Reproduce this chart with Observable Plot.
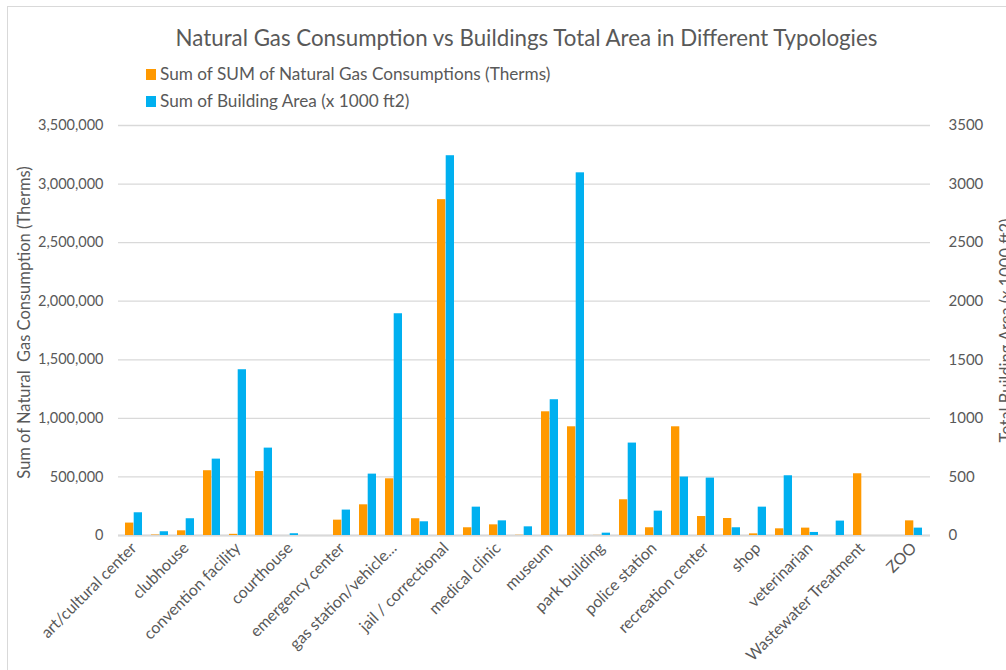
<!DOCTYPE html>
<html><head><meta charset="utf-8">
<script src="https://cdn.jsdelivr.net/npm/d3@7"></script>
<script src="https://cdn.jsdelivr.net/npm/@observablehq/plot@0.6"></script>
<style>
body{margin:0;background:#fff;font-family:Lato, "Open Sans", sans-serif;}
#wrap{position:relative;width:1006px;height:670px;overflow:hidden;background:#fff;}
#frame{position:absolute;left:7px;top:6px;width:1020px;height:700px;border:1.5px solid #d9d9d9;}
#title{position:absolute;left:47px;width:959px;top:24px;text-align:center;font-size:22.3px;color:#595959;line-height:28px;}
.leg{position:absolute;left:146px;font-size:17.2px;color:#595959;display:flex;align-items:center;line-height:20px;}
.sw{width:10px;height:11px;margin-right:4px;}
#chart{position:absolute;left:0;top:110px;}
</style></head>
<body>
<div id="wrap">
  <div id="frame"></div>
  <div id="title"></div>
  <div class="leg" id="leg1" style="top:64px"><span class="sw" style="background:#FF9900"></span><span class="lt"></span></div>
  <div class="leg" id="leg2" style="top:91px"><span class="sw" style="background:#00B0F0"></span><span class="lt"></span></div>
  <div id="chart"></div>
</div>
<script>
const titleText = "Natural Gas Consumption vs Buildings Total Area in Different Typologies";
const seriesNames = ["Sum of SUM of Natural Gas Consumptions (Therms)", "Sum of Building Area (x 1000 ft2)"];
const leftAxisTitle = "Sum of Natural  Gas Consumption (Therms)";
const rightAxisTitle = "Total Building Area (x 1000 ft2)";

// 31 categories; Excel shows only every other label
const categories = [
  "art/cultural center", "(unlabeled 1)", "clubhouse", "(unlabeled 2)", "convention facility",
  "(unlabeled 3)", "courthouse", "(unlabeled 4)", "emergency center", "(unlabeled 5)",
  "gas station/vehicle...", "(unlabeled 6)", "jail / correctional", "(unlabeled 7)", "medical clinic",
  "(unlabeled 8)", "museum", "(unlabeled 9)", "park building", "(unlabeled 10)",
  "police station", "(unlabeled 11)", "recreation center", "(unlabeled 12)", "shop",
  "(unlabeled 13)", "veterinarian", "(unlabeled 14)", "Wastewater Treatment", "(unlabeled 15)", "ZOO"
];
const labeledCategories = categories.filter(c => !c.startsWith("(unlabeled"));

const gasTherms = [
  106000, 4000, 40000, 553000, 10000,
  546000, 0, 0, 131000, 262000,
  484000, 143000, 2867000, 66000, 91000,
  2000, 1056000, 928000, 1000, 305000,
  66000, 928000, 162000, 145000, 14000,
  57000, 63000, 0, 527000, 0, 125000
];
const areaK = [
  194, 32, 143, 652, 1415,
  746, 15, 0, 217, 524,
  1893, 117, 3242, 242, 125,
  74, 1159, 3096, 20, 789,
  208, 499, 490, 66, 242,
  510, 26, 123, 0, 0, 63
];
const yTicks = [0, 500000, 1000000, 1500000, 2000000, 2500000, 3000000, 3500000];

document.getElementById("title").textContent = titleText;
document.querySelector("#leg1 .lt").textContent = seriesNames[0];
document.querySelector("#leg2 .lt").textContent = seriesNames[1];

const rows = categories.map((c, i) => ({category: c, gas: gasTherms[i], area: areaK[i]}));

const plot = Plot.plot({
  width: 1006, height: 560,
  marginTop: 15, marginBottom: 135, marginLeft: 118, marginRight: 76,
  style: {fontFamily: "Lato, 'Open Sans', sans-serif", fontSize: "14px", color: "#595959", background: "transparent"},
  x: {domain: categories, paddingInner: 0.336, paddingOuter: 0.168, label: null},
  y: {domain: [0, 3500000], label: null},
  marks: [
    Plot.gridY(yTicks, {stroke: "#d9d9d9", strokeOpacity: 1, strokeWidth: 1.3}),
    Plot.ruleY([0], {stroke: "#d9d9d9", strokeWidth: 2}),
    Plot.barY(rows, {x: "category", y: "gas", fill: "#FF9900", insetRight: 8.7}),
    Plot.barY(rows, {x: "category", y: d => d.area * 1000, fill: "#00B0F0", insetLeft: 8.7}),
    Plot.axisY({ticks: yTicks, tickFormat: d3.format(","), tickSize: 0, tickPadding: 15, label: null, fontSize: 14.5}),
    Plot.axisY({anchor: "right", ticks: yTicks, tickFormat: d => String(d / 1000), tickSize: 0, tickPadding: 18, label: null, fontSize: 15}),
    Plot.axisX({ticks: labeledCategories, tickRotate: -45, tickSize: 0, tickPadding: 10, label: null, fontSize: 16}),
    Plot.text([leftAxisTitle], {frameAnchor: "left", textAnchor: "middle", lineAnchor: "middle", rotate: -90, dx: -93.5, dy: -8, fontSize: 16.5, fill: "#595959"}),
    Plot.text([rightAxisTitle], {frameAnchor: "right", textAnchor: "middle", lineAnchor: "middle", rotate: -90, dx: 76, fontSize: 16.5, fill: "#595959"})
  ]
});
document.getElementById("chart").appendChild(plot);
</script>
</body></html>
